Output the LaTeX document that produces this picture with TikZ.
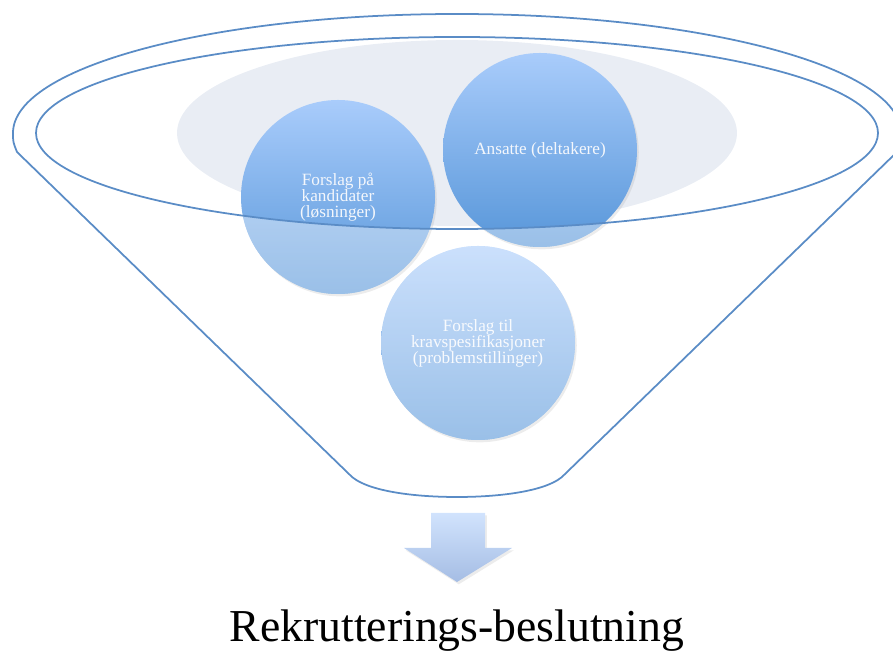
\documentclass[tikz,border=0pt]{standalone}
\usepackage{fontspec}
\setmainfont{Liberation Serif}
\usepackage{tikz}
\usetikzlibrary{shadows}

\definecolor{funnelblue}{HTML}{5A8CC6}
\definecolor{rimgray}{HTML}{E9EDF4}
\definecolor{bubbletop}{HTML}{A9CCFB}
\definecolor{bubblebot}{HTML}{5796D9}
\definecolor{bubbletext}{HTML}{F4F7FC}
\definecolor{arrowtop}{HTML}{D1E3FD}
\definecolor{arrowbot}{HTML}{A5BDE4}

\tikzset{
  funnelline/.style={draw=funnelblue, line width=1.5pt},
  bubble/.style={circle, minimum size=5.82cm, inner sep=0pt, align=center,
    text=bubbletext, font=\fontsize{14.7}{13.6}\selectfont,
    top color=bubbletop, bottom color=bubblebot,
    drop shadow={opacity=0.15, shadow xshift=1.5pt, shadow yshift=-2pt}},
}

\begin{document}
\begin{tikzpicture}[x=0.03cm, y=0.03cm]
  \useasboundingbox (0,0) rectangle (893,652);

  % Gray disc inside the rim
  \fill[rimgray] (457,519) ellipse[x radius=280, y radius=93];

  % Circles
  \node[bubble] (kand) at (338,455) {Forslag på\\kandidater\\(løsninger)};
  \node[bubble] (ans) at (540,502) {Ansatte (deltakere)};
  \node[bubble] (krav) at (478,309) {Forslag til\\kravspesifikasjoner\\(problemstillinger)};

  % Parts below the rim are paler
  \foreach \c in {kand,ans,krav} {
    \begin{scope}
      \clip (\c.center) circle[radius=97];
      \fill[white, fill opacity=0.4, even odd rule] (0,0) rectangle (893,652)
        (457,519) ellipse[x radius=421, y radius=96];
    \end{scope}
  }

  % Inner rim
  \draw[funnelline] (457,519) ellipse[x radius=421, y radius=96];

  % Funnel outline
  \draw[funnelline] (17,500) .. controls (13,510) .. (13,519)
    arc[start angle=180, end angle=0, x radius=444, y radius=119]
    .. controls (901,510) .. (897,500) -- (564,177)
    .. controls (550,162) and (505,155) .. (457,155)
    .. controls (409,155) and (364,162) .. (350,177) -- cycle;

  % Arrow down
  \shade[top color=arrowtop, bottom color=arrowbot,
    drop shadow={opacity=0.15, shadow xshift=1.5pt, shadow yshift=-2pt}]
    (431,139) -- (485,139) -- (485,104) -- (512,104) -- (457,70)
    -- (404,104) -- (431,104) -- cycle;

  % Result
  \node[anchor=base, font=\fontsize{39}{44}\selectfont] (beslutning) at (457,10) {Rekrutterings-beslutning};
\end{tikzpicture}
\end{document}
